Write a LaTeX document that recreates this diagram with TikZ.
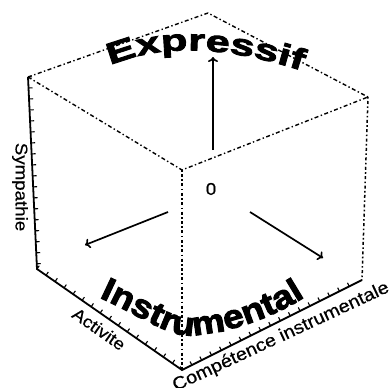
\documentclass[tikz,border=0pt]{standalone}
\usepackage{fontspec}
\setmainfont{Liberation Sans}
\newfontfamily\heavyfont[FakeStretch=1.45,FakeBold=3]{Liberation Sans}
\newfontfamily\heavyfontB[FakeStretch=1.12,FakeBold=3]{Liberation Sans}
\newfontfamily\labfont[FakeStretch=1.1,FakeBold=0.5]{Liberation Sans}
\usetikzlibrary{decorations.text,decorations.pathreplacing,arrows.meta}
\newcommand\expfont{\heavyfont\bfseries\fontsize{30}{36}\selectfont}
\newcommand\insfont{\heavyfontB\bfseries\fontsize{33}{38}\selectfont}
\begin{document}
\begin{tikzpicture}[x=1pt,y=-1pt,
  edge/.style={line width=1.4pt, dash pattern=on 4pt off 2.5pt on 1.4pt off 2.5pt},
  vedge/.style={line width=1.5pt, dash pattern=on 1.6pt off 2.4pt on 3pt off 2.4pt},
  axisline/.style={line width=1.8pt},
  tickmarks/.style={decorate, decoration={border, segment length=11pt, amplitude=4pt, angle=90}, line width=1.1pt},
  arr/.style={line width=1.7pt, -{To[length=5pt,width=10pt,line width=1.6pt]}},
  lab/.style={font=\labfont\fontsize{17}{20}\selectfont, inner sep=0pt},
]
\useasboundingbox (0,0) rectangle (391,388);
\clip (0,0) rectangle (391,388);
% cube vertices
\coordinate (A) at (28,77);
\coordinate (T) at (208,13);
\coordinate (R) at (368,97);
\coordinate (F) at (182,170);
\coordinate (Lb) at (37,269);
\coordinate (Fb) at (182,370);
\coordinate (Rb) at (362,280);
% top face
\draw[edge] (A) -- (T) -- (R);
\draw[edge] (A) -- (F) -- (R);
% vertical edges
\draw[vedge] (F) -- (Fb);
\draw[vedge] (R) -- (Rb);
% axes
\draw[axisline] (A) -- (Lb) -- (Fb) -- (Rb);
\draw[tickmarks] (A) -- (Lb);
\draw[tickmarks] (Lb) -- (Fb);
\draw[tickmarks] (Fb) -- (Rb);
% arrows
\coordinate (o1) at (213,150);
\coordinate (up) at (213,57);
\coordinate (o2) at (168,212);
\coordinate (lf) at (85,245);
\coordinate (o3) at (250,212);
\coordinate (rt) at (323,258);
\draw[arr] (o1) -- (up);
\draw[arr] (o2) -- (lf);
\draw[arr] (o3) -- (rt);
% labels
\node[lab] (zero) at (211,189) {0};
\node[lab, rotate=-90] (symp) at (20,187) {Sympathie};
\node[lab, rotate=-35] (act) at (99,329) {Activite};
\node[lab, rotate=25, font=\labfont\fontsize{18}{20}\selectfont] (comp) at (281,337) {Compétence instrumentale};
% big words
\path[decorate, decoration={text along path, text align=center, text={|\expfont|Expressif}}]
  (106,67) .. controls (160,44) and (220,44) .. (306,72);
\path[decorate, decoration={text along path, text align=center, text={|\insfont|Instrumental}}]
  (96,296) .. controls (140,316) and (165,334) .. (185,335) .. controls (220,336) and (270,320) .. (308,295);
\end{tikzpicture}
\end{document}
